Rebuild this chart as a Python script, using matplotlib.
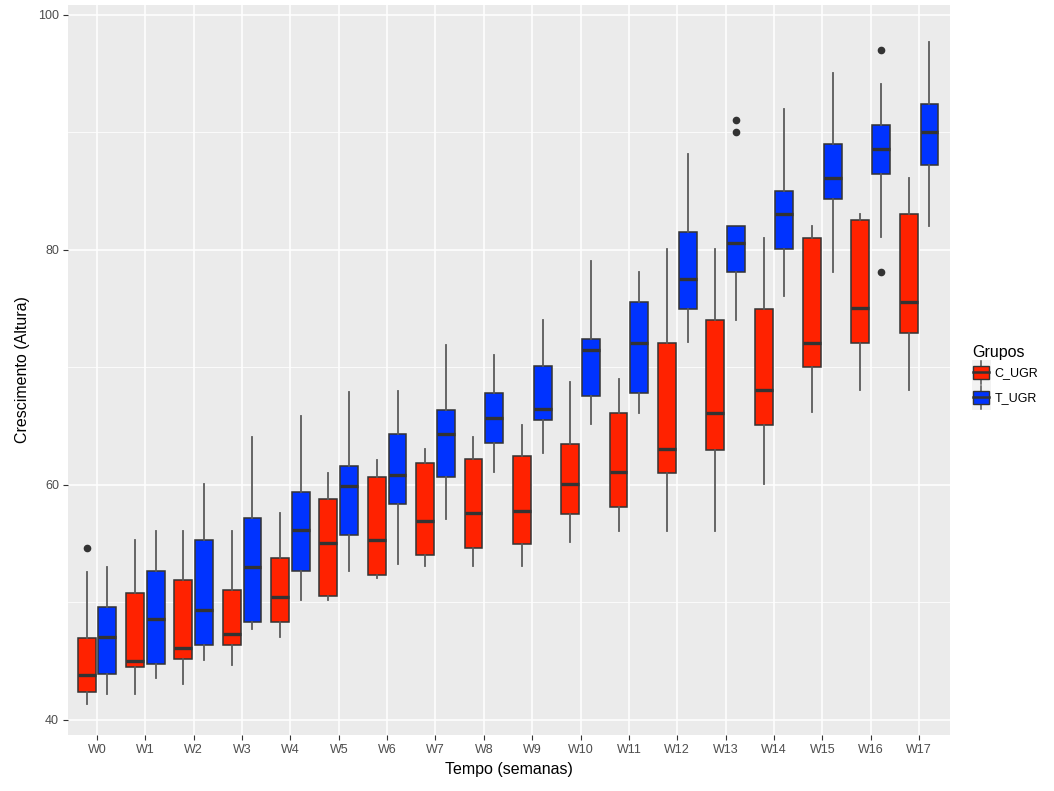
import matplotlib
matplotlib.use('Agg')
import matplotlib.pyplot as plt
from matplotlib.patches import Rectangle, Patch
from matplotlib.lines import Line2D
from matplotlib.legend_handler import HandlerBase

plt.rcParams['font.family'] = ['Liberation Sans', 'DejaVu Sans']

weeks = ['W' + str(i) for i in range(18)]

# C_UGR (red): whisker low, q1, median, q3, whisker high
c_lo = [41.4, 42.2, 43.1, 44.65, 47.1, 50.2, 52.05, 53.1, 53.1, 53.1, 55.15, 56.1, 56.1, 56.1, 60.1, 66.2, 68.1, 68.1]
c_q1 = [42.4, 44.5, 45.2, 46.4, 48.3, 50.55, 52.3, 54.0, 54.6, 54.95, 57.5, 58.1, 61.0, 63.0, 65.1, 70.05, 72.05, 72.9]
c_med = [43.8, 45.05, 46.1, 47.3, 50.5, 55.1, 55.3, 56.9, 57.6, 57.8, 60.05, 61.1, 63.1, 66.15, 68.05, 72.1, 75.05, 75.6]
c_q3 = [47.0, 50.8, 51.9, 51.1, 53.8, 58.8, 60.7, 61.9, 62.2, 62.5, 63.5, 66.1, 72.05, 74.0, 75.0, 81.0, 82.55, 83.05]
c_hi = [52.6, 55.3, 56.1, 56.1, 57.6, 61.05, 62.1, 63.1, 64.1, 65.1, 68.8, 69.05, 80.1, 80.1, 81.0, 82.0, 83.1, 86.1]
c_out = {0: [54.6]}

# T_UGR (blue)
t_lo = [42.2, 43.6, 45.1, 47.7, 50.2, 52.7, 53.3, 57.1, 61.1, 62.7, 65.2, 66.15, 72.15, 74.0, 76.1, 78.15, 81.1, 82.05]
t_q1 = [43.9, 44.8, 46.4, 48.3, 52.7, 55.7, 58.4, 60.65, 63.6, 65.5, 67.6, 67.8, 75.0, 78.1, 80.05, 84.3, 86.5, 87.2]
t_med = [47.1, 48.6, 49.4, 53.0, 56.2, 59.9, 60.85, 64.3, 65.7, 66.5, 71.45, 72.1, 77.5, 80.6, 83.1, 86.1, 88.6, 90.0]
t_q3 = [49.6, 52.7, 55.3, 57.2, 59.4, 61.6, 64.3, 66.4, 67.8, 70.1, 72.4, 75.6, 81.55, 82.0, 85.05, 89.0, 90.6, 92.4]
t_hi = [53.0, 56.1, 60.05, 64.1, 65.9, 67.9, 68.0, 71.9, 71.1, 74.0, 79.1, 78.1, 88.2, 82.0, 92.0, 95.1, 94.1, 97.7]
t_out = {13: [90.05, 91.05], 16: [78.1, 97.05]}

red = '#FF2200'
blue = '#0033FF'
edge = '#333333'


def make_stats(lo, q1, med, q3, hi, out):
    stats = []
    for i in range(len(lo)):
        stats.append({'whislo': lo[i], 'q1': q1[i], 'med': med[i], 'q3': q3[i],
                      'whishi': hi[i], 'fliers': out.get(i, [])})
    return stats


fig = plt.figure(figsize=(10.54, 7.91), dpi=100)
ax = fig.add_axes([68/1054, 1-735/791, (950-68)/1054, (735-5)/791])
ax.set_facecolor('#EBEBEB')

x = list(range(len(weeks)))
for stats, off, col in [(make_stats(c_lo, c_q1, c_med, c_q3, c_hi, c_out), -0.215, red),
                        (make_stats(t_lo, t_q1, t_med, t_q3, t_hi, t_out), 0.215, blue)]:
    ax.bxp(stats, positions=[p + off for p in x], widths=0.37, patch_artist=True,
           showcaps=False,
           boxprops=dict(facecolor=col, edgecolor=edge, linewidth=1.1),
           whiskerprops=dict(color='#5a5a5a', linewidth=1.3),
           medianprops=dict(color=edge, linewidth=2.4),
           flierprops=dict(marker='o', markersize=4.5, markerfacecolor=edge,
                           markeredgecolor=edge),
           manage_ticks=False, zorder=3)

ax.set_xlim(-0.6, 17.64)
ax.set_ylim(38.72, 100.85)
ax.set_xticks(x)
ax.set_xticklabels(weeks)
ax.set_yticks([40, 60, 80, 100])
ax.set_yticks([50, 70, 90], minor=True)
ax.grid(True, which='major', color='white', linewidth=1.1, zorder=0)
ax.grid(True, which='minor', axis='y', color='white', linewidth=0.55, zorder=0)
ax.set_axisbelow(True)
for s in ax.spines.values():
    s.set_visible(False)
ax.tick_params(axis='both', which='major', length=3.5, color='#333333',
               labelcolor='#4D4D4D', labelsize=9, pad=3)
ax.tick_params(axis='y', which='minor', length=0)

ax.set_xlabel('Tempo (semanas)', fontsize=11.5, color='black', labelpad=4)
ax.set_ylabel('Crescimento (Altura)', fontsize=11.5, color='black', labelpad=6)


class BoxKey(HandlerBase):
    def create_artists(self, legend, orig_handle, xdescent, ydescent, width, height, fontsize, trans):
        x0, y0 = -xdescent, -ydescent
        bg = Rectangle((x0, y0), width, height, facecolor='#F2F2F2',
                       edgecolor='none', transform=trans)
        wl = Line2D([x0 + width/2]*2, [y0 + height*0.05, y0 + height*0.95],
                    color='#555555', linewidth=1.1, transform=trans)
        bx = Rectangle((x0 + width*0.08, y0 + height*0.25), width*0.84, height*0.5,
                       facecolor=orig_handle.get_facecolor(), edgecolor=edge, linewidth=1,
                       transform=trans)
        md = Line2D([x0 + width*0.08, x0 + width*0.92], [y0 + height/2]*2,
                    color=edge, linewidth=1.8, transform=trans)
        return [bg, wl, bx, md]


handles = [Patch(facecolor=red, label='C_UGR'), Patch(facecolor=blue, label='T_UGR')]
leg = ax.legend(handles=handles, title='Grupos', loc='center left',
                bbox_to_anchor=(1.015, 0.49), frameon=False, fontsize=9,
                title_fontsize=11.5, handler_map={Patch: BoxKey()},
                handlelength=1.5, handleheight=2.7, handletextpad=0.3,
                labelspacing=0.0, alignment='left', borderpad=0.2)

fig.savefig('out.png', dpi=100, facecolor='white')
